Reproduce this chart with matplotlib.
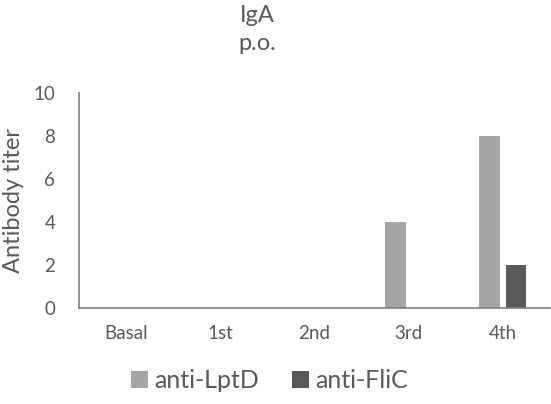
import matplotlib.pyplot as plt
import numpy as np

# Data
categories = ['Basal', '1st', '2nd', '3rd', '4th']
lptd = [0, 0, 0, 4, 8]
flic = [0, 0, 0, 0, 2]
series_names = ['anti-LptD', 'anti-FliC']

plt.rcParams['font.family'] = ['Lato', 'DejaVu Sans']
text_color = '#595959'

fig = plt.figure(figsize=(5.51, 4.04), dpi=100)
ax = fig.add_axes([0.143, 0.238, 0.855, 0.532])

x = np.arange(len(categories))
width = 0.22
ax.bar(x - 0.14, lptd, width, color='#a5a5a5', label=series_names[0])
ax.bar(x + 0.14, flic, width, color='#595959', label=series_names[1])

ax.set_xlim(-0.5, len(categories) - 0.5)
ax.set_ylim(0, 10)
ax.set_yticks([0, 2, 4, 6, 8, 10])
ax.set_xticks(x)
ax.set_xticklabels(categories)

for side in ['top', 'right']:
    ax.spines[side].set_visible(False)
for side in ['left', 'bottom']:
    ax.spines[side].set_color('#7f7f7f')
    ax.spines[side].set_linewidth(1.2)

ax.tick_params(axis='both', length=0, colors=text_color, labelsize=13.5)
ax.tick_params(axis='y', pad=17)
ax.tick_params(axis='x', pad=12)

ax.set_ylabel('Antibody titer', fontsize=17, color=text_color, labelpad=7)
fig.text(0.467, 0.988, 'IgA\np.o.', fontsize=17, color=text_color,
         ha='center', va='top', linespacing=1.45)

ax.legend(loc='upper center', bbox_to_anchor=(0.405, -0.18), ncol=2,
          frameon=False, fontsize=18, labelcolor=text_color,
          handlelength=0.7, handleheight=0.7, handletextpad=0.25,
          columnspacing=1.3)

fig.savefig('out.png', dpi=100)
